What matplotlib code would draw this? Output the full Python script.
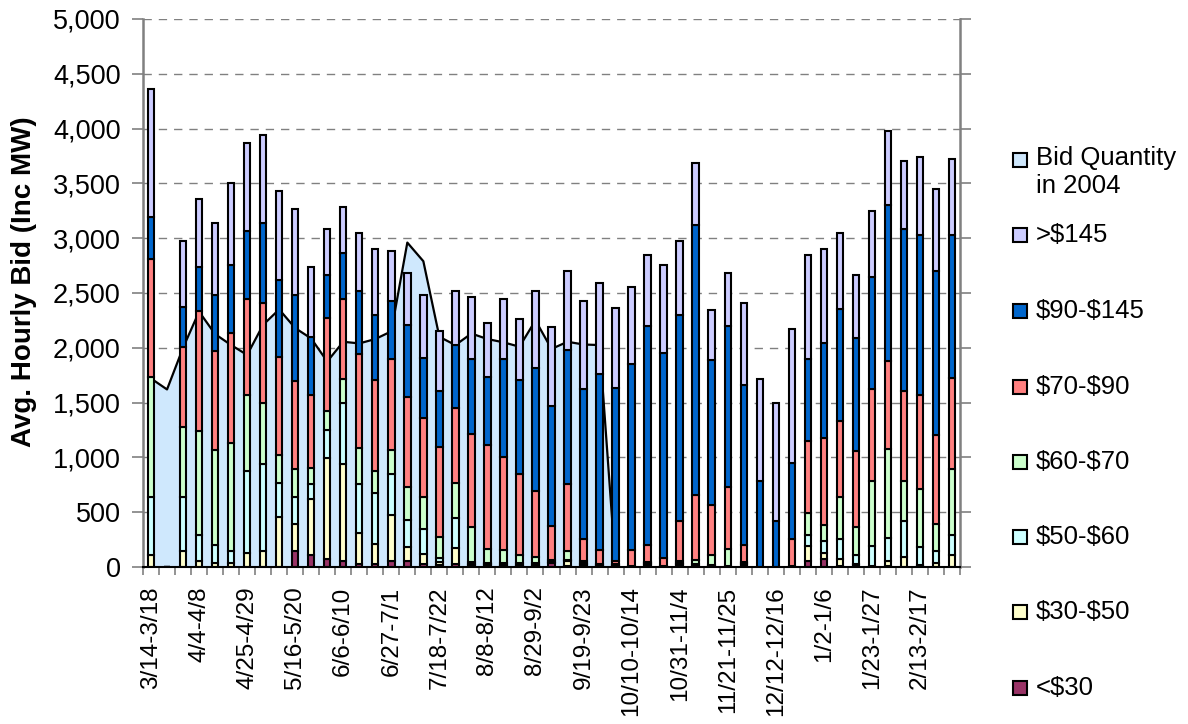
import numpy as np
import matplotlib.pyplot as plt
from matplotlib.patches import Rectangle
from matplotlib.ticker import FuncFormatter, MultipleLocator

plt.rcParams['font.family'] = ['Liberation Sans', 'DejaVu Sans']

# недели: 51 категория, подписана каждая третья
week_labels = ['3/14-3/18', '4/4-4/8', '4/25-4/29', '5/16-5/20', '6/6-6/10',
               '6/27-7/1', '7/18-7/22', '8/8-8/12', '8/29-9/2', '9/19-9/23',
               '10/10-10/14', '10/31-11/4', '11/21-11/25', '12/12-12/16',
               '1/2-1/6', '1/23-1/27', '2/13-2/17']
label_idx = list(range(0, 51, 3))

# объем заявок 2004 года (площадь)
bid_2004 = [1720, 1620, 2000, 2330, 2125, 2025, 1935, 2210, 2350, 2180,
            2085, 1875, 2055, 2040, 2080, 2150, 2960, 2790, 2100, 2025,
            2130, 2080, 2050, 2010, 2250, 1990, 2055, 2030, 2025, 0]

# ступени цены, снизу вверх
lt30 = [0, 0, 0, 0, 0, 0, 0, 0, 0, 143, 107, 70, 52, 30, 24, 55, 52, 30, 15, 30,
        20, 15, 12, 12, 12, 40, 10, 20, 10, 10, 5, 15, 5, 20, 5, 5, 3, 15, 0, 0,
        5, 52, 70, 5, 15, 5, 10, 0, 8, 0, 0]
p30_50 = [113, 0, 143, 52, 37, 37, 128, 143, 453, 253, 511, 925, 891, 280, 189, 416, 130, 92, 31, 146,
          10, 10, 10, 10, 10, 5, 45, 10, 5, 5, 3, 10, 3, 10, 5, 5, 2, 10, 0, 0,
          3, 140, 58, 71, 15, 5, 45, 91, 7, 36, 106]
p50_60 = [526, 0, 496, 243, 167, 106, 748, 800, 314, 243, 143, 259, 554, 450, 462, 380, 250, 222, 39, 274,
          15, 15, 14, 14, 14, 5, 5, 10, 5, 5, 2, 10, 2, 10, 20, 10, 5, 10, 0, 0,
          2, 97, 109, 182, 83, 185, 213, 329, 167, 110, 183]
p60_70 = [1096, 0, 639, 947, 861, 989, 697, 554, 252, 259, 146, 167, 216, 329, 201, 219, 298, 292, 189, 313,
          320, 121, 122, 70, 55, 11, 86, 15, 10, 5, 2, 10, 2, 15, 31, 93, 157, 10, 0, 0,
          2, 204, 143, 381, 252, 587, 805, 362, 527, 249, 602]
p70_90 = [1074, 0, 730, 1095, 907, 1004, 871, 913, 898, 797, 666, 855, 731, 857, 833, 828, 818, 726, 821, 691,
          851, 949, 846, 745, 599, 316, 614, 197, 128, 30, 146, 153, 73, 362, 593, 450, 563, 153, 0, 0,
          246, 653, 800, 690, 690, 839, 803, 821, 857, 806, 836]
p90_145 = [386, 0, 362, 402, 508, 618, 623, 730, 706, 785, 524, 387, 423, 572, 590, 529, 657, 548, 511, 571,
           679, 620, 891, 858, 1129, 1095, 1223, 1369, 1606, 1581, 1697, 2004, 1867, 1879, 2463, 1329, 1472, 1462, 782, 420,
           691, 749, 861, 1022, 1037, 1025, 1423, 1478, 1460, 1499, 1299]
gt145 = [1166, 0, 606, 620, 660, 752, 804, 804, 810, 788, 642, 420, 416, 529, 599, 453, 474, 568, 547, 493,
         565, 496, 550, 554, 699, 718, 717, 803, 827, 730, 699, 644, 803, 678, 566, 456, 480, 748, 930, 1076,
         1219, 951, 857, 696, 572, 602, 681, 620, 714, 748, 696]

series = [('<$30', lt30, '#993366'),
          ('$30-$50', p30_50, '#ffffcc'),
          ('$50-$60', p50_60, '#ccffff'),
          ('$60-$70', p60_70, '#ccffcc'),
          ('$70-$90', p70_90, '#ff8080'),
          ('$90-$145', p90_145, '#0066cc'),
          ('>$145', gt145, '#ccccff')]
area_color = '#cfe8fd'

fig = plt.figure(figsize=(11.88, 7.24), dpi=100)
ax = fig.add_axes([143 / 1188, 157 / 724, 817 / 1188, 548 / 724])

# площадь 2004 года под столбиками
xa = np.arange(len(bid_2004))
ax.fill_between(xa, bid_2004, 0, color=area_color, lw=0, zorder=1)
ax.plot(xa, bid_2004, color='black', lw=1.6, zorder=1.5)

# столбики с накоплением
x = np.arange(len(lt30))
bottom = np.zeros(len(x))
for name, vals, col in series:
    vals = np.array(vals, dtype=float)
    ax.bar(x, vals, width=0.4, bottom=bottom, color=col, edgecolor='black',
           linewidth=1.5, zorder=2)
    bottom += vals

ax.set_xlim(-0.5, len(x) - 0.5)
ax.set_ylim(0, 5000)
ax.yaxis.set_major_locator(MultipleLocator(500))
ax.yaxis.set_major_formatter(FuncFormatter(lambda v, p: f'{int(v):,}'))
ax.grid(axis='y', color='#808080', linestyle=(0, (6, 5)), lw=1, zorder=0)
ax.set_axisbelow(True)

ax.set_xticks(label_idx)
ax.set_xticklabels(week_labels, rotation=90, fontsize=17.5)
ax.set_xticks(np.arange(len(x) + 1) - 0.5, minor=True)
ax.tick_params(axis='x', which='major', length=0, pad=14)
ax.tick_params(axis='x', which='minor', length=6, width=1.2, color='#808080', direction='out')
ax.tick_params(axis='y', which='major', left=True, right=True, labelright=False,
               length=8, width=1.2, color='#808080', direction='out', labelsize=19.5, pad=8)

for s in ['left', 'right']:
    ax.spines[s].set_color('#808080')
    ax.spines[s].set_linewidth(1.8)
ax.spines['top'].set_visible(False)
ax.spines['bottom'].set_color('black')
ax.spines['bottom'].set_linewidth(1.5)

fig.text(24 / 1188, 1 - 282 / 724, 'Avg. Hourly Bid (Inc MW)', rotation=90,
         ha='center', va='center', fontsize=20, fontweight='bold')

# легенда вручную, как в Excel
legend_items = [('Bid Quantity\nin 2004', area_color, 160)]
legend_y = [235, 311, 387, 462, 537, 612, 688]
for (name, vals, col), yy in zip(series[::-1], legend_y):
    legend_items.append((name, col, yy))

for name, col, yy in legend_items:
    fig.patches.append(Rectangle((1013 / 1188, 1 - (yy + 7) / 724), 14 / 1188, 14 / 724,
                                 transform=fig.transFigure, facecolor=col,
                                 edgecolor='black', lw=1.5))
    if '\n' in name:
        fig.text(1036 / 1188, 1 - (yy - 14) / 724, name, ha='left', va='top',
                 fontsize=18.5, linespacing=1.2, parse_math=False)
    else:
        fig.text(1036 / 1188, 1 - yy / 724, name, ha='left', va='center',
                 fontsize=18.5, parse_math=False)

fig.savefig('out.png', dpi=100)
